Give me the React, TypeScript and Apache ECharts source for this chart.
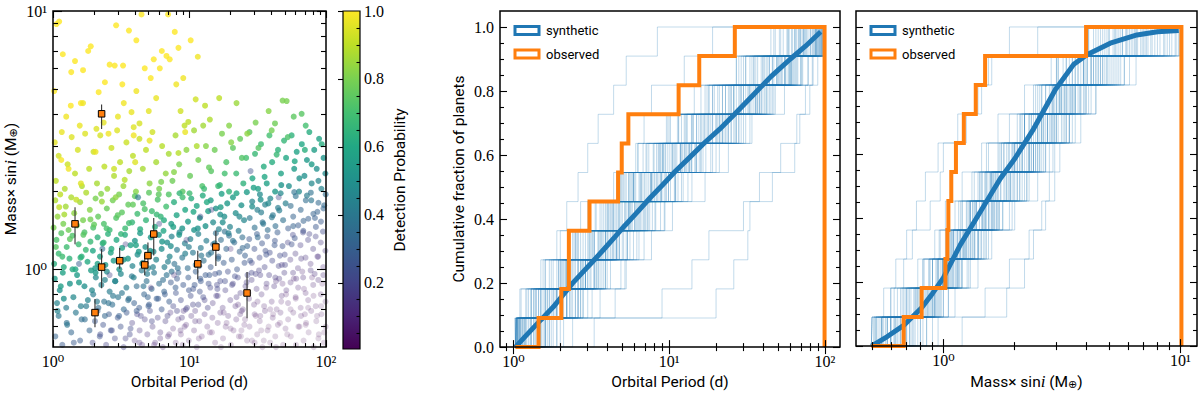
import React, { useEffect, useRef } from "react";
import * as echarts from "echarts";

// ---------------- DATA ----------------
// synthetic planets: [orbital period (d), mass x sin i (Earth masses), detection probability]
const synthPlanets: [number, number, number][] = [
  // M >= 3.5
  [1.02,4.9,1],[1.06,8.9,1],[1.11,9.1,1],[1.18,6.8,1],[1.25,3.9,0.98],[1.35,4.3,1],[1.36,5.8,1],[1.57,3.6,0.97],[1.6,4.4,1],[1.66,4.4,0.98],
  [1.66,5.9,1],[1.81,7.0,1],[1.89,7.3,1],[2.08,3.5,0.95],[2.16,4.85,1],[2.35,3.7,0.96],[2.4,5.3,1],[2.6,6.2,1],[2.83,6.15,1],[2.99,3.9,0.97],
  [3.22,5.2,1],[3.26,6.15,1],[3.3,4.4,0.98],[3.6,8.4,1],[3.76,4.06,0.97],[4.08,7.7,1],[4.08,4.9,0.98],[4.3,3.67,0.94],[4.45,9.7,1],[4.7,6.0,1],
  [5.03,4.1,0.96],[5.47,6.5,1],[5.7,4.6,0.97],[6.06,6.0,1],[6.27,7.0,1],[6.78,6.7,1],[6.97,9.7,1],[7.16,6.5,1],[7.8,8.3,1],[8.0,5.2,0.98],
  [8.6,4.1,0.93],[9.0,5.5,0.98],[9.2,3.6,0.9],[9.8,3.72,0.9],[10.2,7.7,1],[11.1,4.55,0.93],[11.5,6.65,0.98],[12.6,3.6,0.86],[14.1,3.8,0.88],[16.5,4.6,0.9],
  [22.1,4.4,0.85],[30.5,3.7,0.8],[38,4.1,0.82],[42.3,3.67,0.78],[48.1,4.5,0.8],[51.5,4.48,0.8],[66.3,4.0,0.74],[71,3.6,0.7],
  [1.45,6.4,1],[2.9,8.8,1],[5.2,5.5,1],[8.3,7.2,1],[3.9,3.55,0.95],[13,4.3,0.9],[19.5,3.6,0.82],[58,3.9,0.75],
  // 2 <= M < 3.5
  [1.03,3.1,0.96],[1.05,2.2,0.9],[1.1,2.75,0.93],[1.16,3.4,0.97],[1.22,2.05,0.88],[1.28,2.55,0.92],[1.37,3.25,0.95],[1.45,2.35,0.9],[1.52,2.9,0.94],[1.63,2.1,0.88],
  [1.72,3.35,0.95],[1.84,2.45,0.9],[1.98,2.85,0.92],[2.1,2.15,0.87],[2.22,3.3,0.94],[2.38,2.5,0.9],[2.5,2.05,0.85],[2.68,2.95,0.92],[2.8,2.3,0.88],[2.95,3.45,0.95],
  [3.1,2.6,0.9],[3.28,2.1,0.85],[3.45,3.1,0.92],[3.62,2.4,0.87],[3.85,2.75,0.9],[4.05,2.0,0.82],[4.3,3.2,0.92],[4.55,2.45,0.87],[4.8,2.9,0.9],[5.1,2.15,0.83],
  [5.35,3.4,0.93],[5.7,2.6,0.87],[6.0,2.05,0.8],[6.3,3.0,0.89],[6.7,2.35,0.84],[7.05,2.8,0.87],[7.5,2.2,0.78],[7.9,3.3,0.87],[8.4,2.55,0.8],[8.9,2.0,0.74],
  [9.5,2.9,0.83],[10.1,2.3,0.77],[10.8,3.45,0.86],[11.6,2.65,0.8],[12.4,2.1,0.72],[13.2,3.0,0.82],[14.4,2.4,0.74],[15.3,2.9,0.78],[16.2,2.1,0.68],[17.3,3.35,0.8],
  [18.6,2.6,0.72],[19.5,2.0,0.65],[20.8,2.95,0.75],[22.0,2.35,0.68],[23.5,3.2,0.76],[24.8,2.15,0.64],[26.0,2.7,0.7],[27.5,3.4,0.74],[28.9,2.25,0.6],[30.2,2.8,0.67],
  [31.8,2.05,0.57],[33.4,3.05,0.68],[35.0,2.5,0.62],[36.8,2.15,0.57],[38.5,3.3,0.7],[40.3,2.6,0.62],[42.4,2.0,0.54],[44.5,2.9,0.64],[46.8,2.35,0.58],[49.3,3.15,0.66],
  [51.0,2.7,0.6],[53.5,2.1,0.5],[56.0,3.3,0.64],[58.5,2.45,0.55],[61.0,2.85,0.58],[63.5,2.0,0.47],[66.5,3.05,0.6],[69.5,2.3,0.5],[72.5,2.65,0.54],[75.5,3.4,0.62],
  [78.5,2.15,0.47],[82.0,2.9,0.56],[85.5,2.45,0.5],[89.0,3.2,0.58],[92.5,2.05,0.45],[96.0,2.7,0.52],[99.0,2.35,0.48],
  [1.3,2.45,0.98],[2.05,2.85,0.97],[3.35,2.22,0.89],[5.1,3.15,0.97],[7.7,2.38,0.82],[11.3,3.0,0.88],[16.7,2.12,0.66],[24.2,2.7,0.73],[35.5,2.28,0.6],[52.5,3.25,0.72],
  [78.5,2.55,0.55],[1.6,2.15,0.95],[2.55,3.35,0.98],[4.0,2.6,0.95],[6.2,2.18,0.8],[9.3,3.4,0.97],[13.9,2.48,0.76],[20.2,3.1,0.82],[29.5,2.07,0.57],[43.5,2.78,0.67],
  [63.8,2.25,0.51],[93,3.05,0.62],[1.15,2.65,0.99],[3.9,3.3,0.98],[8.3,2.82,0.89],[18.1,2.35,0.7],[32,2.95,0.74],[47,2.12,0.52],[70,2.9,0.63],[88,2.2,0.46],
  [2.8,2.45,0.92],[12.8,2.05,0.68],[26.5,3.35,0.83],[59,2.62,0.6],[40,3.45,0.79],
  // 1.4 <= M < 2
  [1.01,1.45,0.8],[1.04,1.85,0.88],[1.08,1.6,0.84],[1.13,1.95,0.9],[1.19,1.5,0.8],[1.24,1.75,0.86],[1.3,1.42,0.78],[1.36,1.9,0.88],[1.43,1.65,0.83],[1.5,1.48,0.79],
  [1.58,1.82,0.86],[1.66,1.55,0.8],[1.75,1.98,0.88],[1.86,1.7,0.82],[1.97,1.45,0.72],[2.05,1.88,0.8],[2.14,1.6,0.76],[2.25,1.96,0.82],[2.36,1.5,0.72],[2.48,1.72,0.77],
  [2.6,1.42,0.68],[2.74,1.85,0.79],[2.9,1.58,0.73],[3.05,1.95,0.8],[3.2,1.66,0.75],[3.38,1.44,0.68],[3.56,1.78,0.76],[3.8,1.52,0.66],[3.98,1.92,0.75],[4.15,1.64,0.69],
  [4.35,1.43,0.62],[4.58,1.8,0.72],[4.8,1.55,0.66],[5.05,1.98,0.75],[5.3,1.68,0.69],[5.58,1.46,0.62],[5.85,1.86,0.72],[6.15,1.6,0.66],[6.45,1.41,0.6],[6.75,1.75,0.7],
  [7.05,1.95,0.73],[7.35,1.5,0.56],[7.7,1.82,0.63],[8.05,1.62,0.59],[8.45,1.97,0.66],[8.85,1.44,0.53],[9.3,1.7,0.6],[9.75,1.53,0.55],[10.3,1.88,0.63],[10.8,1.42,0.52],
  [11.3,1.76,0.6],[11.9,1.58,0.55],[12.5,1.93,0.62],[13.1,1.47,0.52],[13.7,1.68,0.57],[14.3,1.85,0.56],[14.9,1.52,0.48],[15.6,1.72,0.52],[16.4,1.43,0.44],[17.2,1.96,0.57],
  [18.0,1.6,0.5],[18.9,1.8,0.54],[19.8,1.46,0.45],[20.8,1.9,0.55],[21.8,1.65,0.49],[22.9,1.41,0.42],[24.0,1.77,0.51],[25.1,1.55,0.46],[26.3,1.99,0.55],[16.8,1.63,0.5],
  [27.6,1.58,0.4],[28.8,1.83,0.46],[30.0,1.45,0.37],[31.4,1.7,0.43],[32.8,1.95,0.48],[34.3,1.52,0.38],[35.8,1.78,0.44],[37.4,1.42,0.35],[39.1,1.88,0.46],[40.8,1.62,0.4],
  [42.6,1.47,0.36],[44.5,1.73,0.42],[46.5,1.97,0.47],[48.5,1.55,0.37],[50.6,1.8,0.43],[33.5,1.66,0.42],[52.8,1.44,0.28],[55.1,1.76,0.35],[57.5,1.6,0.31],[60.0,1.92,0.38],
  [62.6,1.48,0.29],[65.3,1.7,0.33],[68.2,1.41,0.26],[71.1,1.85,0.36],[74.2,1.57,0.3],[77.4,1.98,0.38],[80.8,1.64,0.31],[84.3,1.46,0.27],[88.0,1.81,0.34],[91.8,1.53,0.28],
  [95.8,1.72,0.32],[99.5,1.95,0.36],[58.5,1.99,0.38],[86.5,1.67,0.31],
  // 1 <= M < 1.4
  [1.02,1.05,0.63],[1.06,1.3,0.72],[1.1,1.15,0.68],[1.15,1.38,0.74],[1.2,1.02,0.62],[1.26,1.22,0.69],[1.32,1.1,0.65],[1.39,1.35,0.72],[1.46,1.0,0.6],[1.54,1.25,0.68],
  [1.62,1.12,0.64],[1.7,1.39,0.72],[1.79,1.07,0.61],[1.88,1.28,0.67],[1.96,1.18,0.6],[2.04,1.01,0.54],[2.12,1.33,0.64],[2.21,1.12,0.58],[2.31,1.26,0.62],[2.42,1.04,0.54],
  [2.53,1.37,0.64],[2.65,1.16,0.58],[2.78,1.08,0.55],[2.92,1.3,0.61],[3.06,1.0,0.52],[3.21,1.21,0.58],[3.37,1.36,0.62],[3.54,1.1,0.54],[3.7,1.24,0.58],[3.82,1.03,0.45],
  [3.98,1.29,0.53],[4.16,1.14,0.49],[4.35,1.38,0.55],[4.54,1.06,0.46],[4.75,1.22,0.5],[4.97,1.01,0.44],[5.2,1.33,0.53],[5.45,1.17,0.48],[5.7,1.09,0.46],[5.97,1.36,0.53],
  [6.25,1.2,0.49],[6.55,1.02,0.43],[6.86,1.27,0.5],[7.15,1.12,0.46],[7.4,1.34,0.45],[7.75,1.05,0.37],[8.1,1.19,0.41],[8.45,1.39,0.46],[8.85,1.11,0.39],[9.25,1.26,0.43],
  [9.7,1.01,0.35],[10.15,1.31,0.44],[10.6,1.16,0.4],[11.1,1.04,0.36],[11.6,1.37,0.45],[12.1,1.21,0.41],[12.7,1.08,0.37],[13.3,1.29,0.42],[13.8,1.14,0.38],[9.9,1.22,0.42],
  [14.3,1.02,0.28],[14.9,1.25,0.34],[15.6,1.38,0.37],[16.3,1.12,0.31],[17.0,1.3,0.35],[17.8,1.06,0.29],[18.6,1.2,0.32],[19.5,1.35,0.36],[20.4,1.09,0.29],[21.3,1.27,0.34],
  [22.3,1.0,0.26],[23.3,1.17,0.31],[24.4,1.33,0.35],[25.5,1.13,0.3],[26.5,1.23,0.32],[18.1,1.4,0.37],[27.4,1.31,0.27],[28.6,1.06,0.21],[29.9,1.2,0.25],[31.2,1.37,0.29],
  [32.6,1.11,0.22],[34.0,1.26,0.26],[35.5,1.02,0.19],[37.1,1.34,0.28],[38.7,1.16,0.23],[40.4,1.08,0.21],[42.2,1.29,0.26],[44.1,1.39,0.29],[46.0,1.13,0.22],[48.0,1.23,0.25],
  [50.1,1.04,0.19],[36.0,1.18,0.24],[45.0,1.03,0.19],[52.5,1.27,0.18],[54.8,1.09,0.14],[57.2,1.36,0.2],[59.7,1.15,0.15],[62.3,1.01,0.12],[65.0,1.24,0.17],[67.9,1.39,0.2],
  [70.8,1.11,0.14],[73.9,1.3,0.18],[77.1,1.05,0.12],[80.5,1.2,0.16],[84.0,1.34,0.18],[87.7,1.12,0.13],[91.5,1.27,0.16],[95.5,1.02,0.11],[99.0,1.18,0.15],[75.5,1.37,0.19],
  // 1 <= M < 2, second pass
  [1.21,1.63,0.87],[1.74,1.19,0.67],[2.47,1.44,0.71],[3.3,1.09,0.54],[4.7,1.71,0.72],[6.3,1.28,0.53],[8.9,1.9,0.69],[12.2,1.13,0.39],[17.5,1.52,0.49],[25.3,1.06,0.26],
  [37.8,1.8,0.47],[56,1.25,0.24],[83,1.58,0.3],[1.05,1.22,0.74],[1.48,1.86,0.91],[2.12,1.05,0.58],[2.98,1.62,0.75],[4.25,1.17,0.54],[5.95,1.95,0.75],[8.4,1.36,0.53],
  [11.8,1.03,0.34],[16.9,1.74,0.56],[24.5,1.21,0.33],[34.7,1.5,0.39],[49.8,1.14,0.21],[72.5,1.93,0.42],[1.33,1.31,0.75],[1.88,1.56,0.79],[2.68,1.2,0.61],[3.85,1.78,0.76],
  [5.4,1.02,0.44],[7.6,1.46,0.57],[10.7,1.67,0.6],[15.3,1.26,0.41],[22.1,1.97,0.59],[31.6,1.33,0.34],[45.5,1.69,0.42],[65.8,1.1,0.15],[95,1.4,0.23],[1.11,1.74,0.91],
  [1.59,1.11,0.64],[2.28,1.83,0.85],[3.15,1.37,0.66],[4.5,1.05,0.48],[6.5,1.55,0.62],[9.3,1.15,0.43],[13.4,1.82,0.61],[19.3,1.38,0.43],[27.8,1.08,0.26],[40.1,1.59,0.4],
  [59,1.32,0.26],[86.5,1.12,0.13],[1.39,1.0,0.61],[2.0,1.49,0.76],[2.88,1.9,0.83],[4.05,1.24,0.58],[5.75,1.63,0.67],[8.2,1.01,0.38],[11.5,1.44,0.51],[16.2,1.1,0.34],
  [23.2,1.6,0.47],[33.2,1.86,0.5],[47.5,1.04,0.17],[68.4,1.54,0.31],[97,1.77,0.34],[1.17,1.12,0.69],[3.6,1.51,0.69],[7.3,1.23,0.49],[14.4,1.16,0.38],[28.8,1.75,0.49],
  [57.5,1.47,0.31],[1.67,1.36,0.74],[5.15,1.18,0.52],[10.0,1.97,0.69],[20.8,1.29,0.38],[42,1.24,0.27],[78,1.85,0.39],[2.35,1.27,0.66],[6.95,1.07,0.43],[36.5,1.14,0.25],
  // 0.7 <= M < 1
  [1.03,0.92,0.55],[1.07,0.74,0.45],[1.12,0.83,0.5],[1.18,0.97,0.58],[1.25,0.71,0.42],[1.33,0.88,0.52],[1.41,0.78,0.47],[1.5,0.95,0.55],[1.6,0.72,0.43],[1.7,0.86,0.5],
  [1.8,0.76,0.45],[1.9,0.99,0.56],[1.97,0.8,0.42],[2.06,0.93,0.47],[2.15,0.71,0.36],[2.26,0.87,0.44],[2.37,0.75,0.38],[2.48,0.98,0.48],[2.6,0.82,0.42],[2.72,0.73,0.36],
  [2.86,0.9,0.45],[3.0,0.78,0.39],[3.14,0.96,0.47],[3.3,0.7,0.34],[3.45,0.85,0.42],[3.6,0.77,0.38],[2.4,0.91,0.45],[3.78,0.94,0.4],[3.93,0.74,0.3],[4.1,0.86,0.35],
  [4.28,0.71,0.28],[4.46,0.99,0.41],[4.65,0.8,0.32],[4.85,0.9,0.37],[5.06,0.73,0.29],[5.28,0.84,0.34],[5.5,0.97,0.4],[5.74,0.77,0.3],[5.99,0.88,0.35],[6.25,0.7,0.27],
  [6.52,0.82,0.32],[6.8,0.95,0.38],[7.1,0.75,0.29],[4.95,0.78,0.31],[7.3,0.89,0.28],[7.6,0.72,0.2],[7.95,0.81,0.24],[8.3,0.97,0.31],[8.65,0.76,0.22],[9.0,0.87,0.27],
  [9.4,0.7,0.19],[9.8,0.93,0.29],[10.2,0.79,0.23],[10.65,0.84,0.25],[11.1,0.98,0.3],[11.6,0.73,0.2],[12.1,0.9,0.27],[12.6,0.78,0.22],[13.1,0.95,0.28],[13.6,0.71,0.19],
  [8.1,0.92,0.28],[11.9,0.82,0.24],[14.2,0.85,0.2],[14.8,0.74,0.14],[15.4,0.96,0.24],[16.1,0.79,0.16],[16.8,0.9,0.21],[17.5,0.71,0.12],[18.3,0.83,0.17],[19.1,0.98,0.23],
  [19.9,0.76,0.13],[20.8,0.88,0.19],[21.7,0.72,0.11],[22.6,0.93,0.2],[23.6,0.81,0.15],[24.6,0.7,0.1],[25.7,0.86,0.16],[26.6,0.95,0.2],[15.9,0.87,0.2],[22.1,0.78,0.14],
  [27.3,0.77,0.1],[28.5,0.91,0.16],[29.7,0.73,0.08],[31.0,0.84,0.13],[32.3,0.99,0.18],[33.7,0.8,0.11],[35.2,0.72,0.07],[36.7,0.88,0.14],[38.3,0.95,0.17],[40.0,0.75,0.08],
  [41.7,0.86,0.13],[43.5,0.7,0.06],[45.4,0.92,0.15],[47.4,0.79,0.1],[49.5,0.97,0.16],[51.2,0.83,0.11],[30.5,0.96,0.18],[42.5,0.93,0.16],[52.7,0.74,0.06],[55.0,0.89,0.11],
  [57.4,0.97,0.14],[59.9,0.78,0.07],[62.5,0.85,0.09],[65.2,0.71,0.05],[68.0,0.93,0.12],[70.9,0.81,0.08],[74.0,0.76,0.06],[77.2,0.99,0.14],[80.6,0.87,0.09],[84.1,0.72,0.05],
  [87.8,0.91,0.11],[91.6,0.8,0.07],[95.6,0.95,0.12],[99.2,0.75,0.05],[60.5,0.92,0.12],[82.5,0.96,0.13],
  // 0.5 <= M < 0.7
  [1.04,0.55,0.32],[1.1,0.66,0.4],[1.17,0.51,0.28],[1.26,0.62,0.37],[1.36,0.57,0.33],[1.47,0.68,0.4],[1.58,0.53,0.29],[1.71,0.64,0.36],[1.85,0.58,0.32],[1.95,0.52,0.2],
  [2.03,0.63,0.27],[2.12,0.69,0.3],[2.22,0.56,0.23],[2.33,0.61,0.25],[2.45,0.51,0.19],[2.57,0.67,0.28],[2.7,0.58,0.23],[2.84,0.54,0.2],[2.98,0.65,0.26],[3.13,0.6,0.24],
  [3.29,0.5,0.18],[3.46,0.68,0.27],[3.65,0.56,0.21],[3.8,0.62,0.17],[3.96,0.53,0.12],[4.13,0.67,0.19],[4.31,0.58,0.14],[4.5,0.51,0.11],[4.7,0.64,0.17],[4.91,0.56,0.13],
  [5.13,0.69,0.2],[5.36,0.6,0.15],[5.6,0.52,0.11],[5.85,0.65,0.17],[6.11,0.57,0.13],[6.38,0.5,0.1],[6.66,0.63,0.16],[6.95,0.55,0.12],[4.4,0.66,0.18],[7.25,0.68,0.13],
  [7.58,0.59,0.09],[7.92,0.52,0.06],[8.28,0.64,0.11],[8.65,0.56,0.07],[9.04,0.69,0.13],[9.45,0.61,0.09],[9.88,0.53,0.06],[10.3,0.66,0.12],[10.8,0.58,0.08],[11.3,0.5,0.05],
  [11.8,0.63,0.1],[12.3,0.55,0.06],[12.9,0.67,0.12],[13.5,0.6,0.08],[8.9,0.51,0.05],[11.0,0.69,0.13],[14.1,0.57,0.05],[14.7,0.65,0.09],[15.4,0.52,0.04],[16.1,0.62,0.07],
  [16.8,0.68,0.1],[17.6,0.54,0.04],[18.4,0.6,0.06],[19.2,0.66,0.09],[20.1,0.51,0.03],[21.0,0.58,0.05],[22.0,0.64,0.08],[23.0,0.55,0.04],[24.1,0.69,0.1],[25.2,0.61,0.05],
  [26.4,0.53,0.03],[17.0,0.5,0.03],[23.5,0.67,0.09],[27.5,0.6,0.05],[28.7,0.53,0.03],[30.0,0.67,0.07],[31.3,0.56,0.03],[32.7,0.63,0.05],[34.2,0.5,0.02],[35.7,0.69,0.08],
  [37.3,0.58,0.04],[39.0,0.52,0.02],[40.7,0.65,0.06],[42.5,0.55,0.03],[44.4,0.61,0.05],[46.4,0.68,0.07],[48.5,0.51,0.02],[50.5,0.59,0.04],[33.0,0.66,0.06],[43.0,0.5,0.02],
  [52.8,0.64,0.04],[55.2,0.55,0.02],[57.6,0.68,0.05],[60.2,0.51,0.02],[62.8,0.6,0.03],[65.6,0.66,0.05],[68.5,0.53,0.02],[71.5,0.62,0.03],[74.6,0.57,0.02],[77.9,0.69,0.05],
  [81.3,0.5,0.02],[84.9,0.63,0.03],[88.6,0.56,0.02],[92.5,0.67,0.04],[96.5,0.52,0.02],[99.5,0.6,0.03],[70.0,0.67,0.04],
  // 0.5 <= M < 1, second pass
  [1.27,0.61,0.39],[1.93,0.83,0.47],[3.7,0.59,0.22],[5.9,0.77,0.29],[8.8,0.65,0.155],[13.8,0.88,0.24],[18.7,0.62,0.05],[27,0.81,0.115],[39,0.7,0.04],[58,0.92,0.08],
  [86,0.66,0.03],[2.55,0.74,0.38],[4.9,0.96,0.42],[7.1,0.56,0.1],[10.6,0.73,0.19],[16.5,0.97,0.27],[24,0.58,0.03],[33,0.95,0.17],[47,0.75,0.05],[69,0.84,0.05],
  [1.14,0.86,0.56],[1.62,0.64,0.36],[2.85,0.9,0.46],[4.1,0.69,0.28],[6.4,0.91,0.36],[9.2,0.6,0.1],[12.9,0.76,0.18],[20.5,0.87,0.19],[30.6,0.66,0.04],[43,0.9,0.11],
  [64,0.6,0.02],[94,0.88,0.04],[2.2,0.55,0.25],[3.2,0.81,0.39],[5.3,0.63,0.2],[7.9,0.85,0.3],[11.7,0.54,0.05],[15.7,0.79,0.17],[22.7,0.73,0.09],[35,0.53,0.02],
  [51,0.8,0.06],[74,0.71,0.03],[1.42,0.52,0.28],[2.05,0.97,0.54],[3.05,0.66,0.3],[4.6,0.86,0.38],[6.9,0.66,0.19],[9.9,0.83,0.26],[14.6,0.57,0.04],[21.5,0.94,0.22],
  [31.5,0.75,0.06],[46,0.62,0.02],[67,0.98,0.09],[97,0.57,0.02],[1.75,0.72,0.41],[2.65,0.58,0.25],[3.9,0.93,0.44],[5.5,0.51,0.09],[8.1,0.69,0.19],[12.0,0.92,0.28],
  [17.8,0.68,0.08],[26.2,0.89,0.17],[38,0.6,0.02],[55,0.7,0.03],[81,0.79,0.04],[1.08,0.69,0.45],[2.4,0.66,0.33],[3.4,0.54,0.18],[5.0,0.72,0.28],[7.4,0.98,0.38],
  [11.0,0.63,0.11],[16.0,0.84,0.2],[23.8,0.55,0.03],[36.5,0.85,0.1],[52,0.56,0.02],[79,0.93,0.06],[1.55,0.89,0.54],[2.75,0.79,0.4],[4.3,0.52,0.13],[6.6,0.8,0.29],
  [9.6,0.71,0.18],[14.0,0.95,0.28],[20.0,0.59,0.04],[28.5,0.97,0.2],[41,0.67,0.03],[60,0.77,0.04],[88,0.54,0.02],[1.2,0.77,0.5],[6.1,0.54,0.11],[18.2,0.9,0.22],
  [33.5,0.58,0.02],[71,0.61,0.02],[3.55,0.76,0.35],[10.9,0.87,0.27],[25.5,0.64,0.04],[48,0.88,0.08],[2.1,0.75,0.41],[8.6,0.58,0.1],[30,0.52,0.02],[92,0.72,0.03],
  // scattered low-probability points
  [3.4,1.25,0.18],[6.0,1.5,0.22],[9.5,1.3,0.15],[2.6,0.95,0.2],[14.5,1.7,0.2],[5.2,0.85,0.1],[20.0,1.2,0.12],[1.55,1.05,0.3],
  [7.7,0.95,0.12],[28,2.4,0.25],[12,1.6,0.25],[45,1.9,0.2],[4.2,1.9,0.4],[2.3,1.2,0.35],
];

// observed planets
const obsPeriod = [1.45, 2.27, 2.27, 2.03, 3.08, 4.7, 4.96, 5.47, 11.5, 15.6, 26.4];
const obsMass = [1.5, 4.0, 1.02, 0.68, 1.08, 1.04, 1.13, 1.37, 1.05, 1.22, 0.81];
const obsMassLow = [1.25, 3.49, 0.845, 0.597, 1.006, 0.948, 1.045, 1.13, 0.916, 1.03, 0.646];
const obsMassHigh = [1.74, 4.35, 1.2, 0.767, 1.21, 1.15, 1.27, 1.58, 1.18, 1.41, 0.976];

// histogram ranges for the cumulative step curves
const periodHistRange = [1.03, 99.5];
const massHistRange = [0.497, 10.1];

// cumulative distribution of the whole synthetic population (detection-weighted)
const synthPeriodCdfP = [1.03, 1.2, 1.5, 1.8, 2.1, 2.4, 2.8, 3.2, 3.8, 4.5, 5.2, 6.2, 7.5, 9, 11, 13.7, 17, 21, 26, 35, 45, 60, 75, 94];
const synthPeriodCdfF = [0, 0.035, 0.085, 0.125, 0.165, 0.2, 0.235, 0.265, 0.305, 0.345, 0.38, 0.42, 0.465, 0.505, 0.55, 0.595, 0.64, 0.68, 0.725, 0.79, 0.845, 0.9, 0.94, 0.985];
const synthMassCdfM = [0.497, 0.58, 0.678, 0.81, 0.9, 1.0, 1.18, 1.43, 1.74, 2.0, 2.4, 2.97, 3.54, 4.03, 5.06, 6.56, 8.0, 9.84];
const synthMassCdfF = [0, 0.03, 0.064, 0.12, 0.165, 0.214, 0.318, 0.42, 0.525, 0.587, 0.68, 0.804, 0.882, 0.913, 0.949, 0.975, 0.985, 0.989];

// individual synthetic draws of 11 planets
const periodDraws: number[][] = [
  [1.1,1.6,2.3,3.1,4.5,6.0,9.5,14,25,40,72],
  [1.3,1.9,2.0,3.8,5.2,7.7,11,18,33,55,92],
  [1.05,1.4,2.7,3.3,3.9,5.9,12,16,22,46,68],
  [1.5,2.2,2.9,4.8,6.6,8.4,10.5,24,29,61,85],
  [1.04,1.2,1.8,2.5,3.6,6.4,7.2,13,19,37,58],
  [1.7,2.6,3.4,4.1,5.5,9.0,15,27,42,50,97],
  [1.15,1.35,2.1,2.8,4.4,5.0,8.8,11.5,17,28,64],
  [1.08,2.4,3.0,3.5,7.0,8.1,13.5,21,35,78,99],
  [1.25,1.7,1.95,3.2,4.0,4.6,6.8,9.8,14.5,31,48],
  [2.0,2.3,3.7,5.4,6.2,10.2,16.5,20,38,65,88],
  [1.05,1.5,2.2,2.6,3.0,5.8,9.2,12.5,26,44,75],
  [1.4,1.8,3.3,4.3,7.5,9.5,11.8,23,30,52,70],
  [1.12,1.25,1.6,2.0,3.4,4.9,7.9,17.5,27,34,57],
  [1.6,2.7,4.0,5.1,6.0,8.6,14,19,45,83,95],
  [1.06,1.9,2.5,3.6,5.3,7.4,10.8,15.5,24,41,62],
  [1.3,2.1,2.4,2.9,4.2,6.5,12.2,28,36,59,90],
  [1.18,1.45,3.1,4.7,5.7,6.9,9.0,13,18,27,47],
  [1.9,2.2,2.8,3.9,8.2,11,16,22,32,70,98],
  [1.06,1.3,1.7,2.3,2.7,4.4,6.3,10,21,39,54],
  [1.5,1.75,3.5,4.6,5.6,7.8,13.8,25,43,67,81],
  [1.2,2.0,2.6,3.3,4.0,5.2,8.0,9.6,16,29,66],
  [1.04,1.1,2.9,3.7,6.1,8.9,11.2,20,37,49,86],
  [1.35,1.65,2.2,4.5,5.0,6.7,12.8,17,23,56,73],
  [1.1,2.5,3.0,3.2,4.8,9.3,14.8,30,47,60,94],
  [1.45,1.85,2.0,2.7,3.8,5.5,7.1,11.5,19.5,33,51],
  [1.04,1.6,3.6,4.2,6.9,7.6,10.4,15,26,44,79],
  [1.8,2.3,2.6,5.3,6.4,9.9,13.3,18.5,40,53,87],
  [1.15,1.55,1.9,3.1,4.3,5.9,8.5,21.5,31,63,91],
  [1.22,2.8,3.3,3.9,4.1,7.2,9.4,12,24.5,35,59],
  [1.07,1.4,2.15,2.45,5.6,6.1,11.8,16.8,29,58,77],
  [1.6,1.9,2.9,4.6,7.3,8.8,12.6,14.3,20.5,42,69],
  [1.28,1.5,2.35,3.5,4.9,5.3,10.6,22.5,36,46,83],
  [1.05,2.2,2.75,3.05,3.7,8.3,9.1,17.8,28.5,71,96],
  [1.5,1.7,3.9,5.0,5.8,6.6,15.6,19,34,50,64],
  [1.12,2.6,3.15,4.35,5.45,10.9,13.9,26.5,39,61,89],
  [1.38,1.6,2.05,2.55,4.75,7.7,8.7,23.5,32.5,55,74],
  [1.1,1.3,1.5,1.9,2.2,2.6,3.0,3.5,4.4,5.3,8.4],
  [1.7,2.5,3.3,4.0,4.6,5.5,6.3,6.9,7.7,12.5,19],
  [3.3,20,26,32,33,46,52,69,75,84,97],
  [1.6,9.0,14,18,30,38,64,66,80,90,99],
  [1.06,1.35,2.9,3.3,6.8,11,12.5,16,41,47,88],
  [1.6,2.6,2.8,5.9,7.1,9.9,24,27,38,62,95],
  [1.03,1.12,1.55,2.3,4.4,4.9,6.1,15,17.5,30,52],
  [1.9,3.6,4.2,4.8,9.3,14,16,33,44,59,81],
  [1.2,1.45,2.05,3.9,6.3,8.0,8.6,10.2,26,36,70],
  [1.1,2.8,3.5,6.4,8.8,17,19,29,37,72,93],
  [1.35,1.5,1.75,2.6,3.1,5.6,13,21,23,31,45],
  [2.4,2.7,5.2,6.9,7.8,12.3,20,34,55,66,99],
  [1.04,1.8,2.2,2.5,4.7,7.0,10.1,12.7,18,56,76],
  [1.55,3.2,3.8,4.4,5.2,11.4,18.5,26,48,53,87],
  [1.15,1.3,2.45,5.6,6.0,7.6,9.1,14.2,28,40,61],
  [1.75,2.05,3.4,4.0,10.5,13.2,15,22,30,78,94],
  [1.02,1.65,1.95,3.0,3.35,5.1,8.3,24,33,49,68],
  [1.3,4.5,5.3,6.2,7.3,9.6,21,25,46,64,84],
  [1.08,1.22,2.7,3.7,4.1,6.6,11.8,13.9,19,35,58],
  [2.1,2.35,2.6,4.6,8.1,10.8,17.2,31,42,51,97],
  [1.18,1.9,2.15,2.4,5.5,5.9,7.4,16.5,22,27,73],
  [1.45,3.0,3.9,7.7,9.4,12,14.6,20.5,39,60,89],
  [1.05,1.38,1.6,3.6,4.3,5.7,9.8,11.3,25,43,65],
  [1.65,2.2,4.9,5.4,6.5,8.9,13.5,28,36,70,92],
];
const massDraws: number[][] = [
  [0.55,0.72,0.95,1.1,1.3,1.45,1.8,2.1,2.6,3.3,4.8],
  [0.62,0.85,0.9,1.25,1.6,1.7,2.3,2.9,3.1,4.2,6.5],
  [0.7,0.78,1.05,1.15,1.5,1.9,2.0,2.5,3.6,3.9,5.6],
  [0.52,0.66,0.88,1.02,1.2,1.35,1.55,2.2,2.7,3.0,4.4],
  [0.8,0.92,1.12,1.4,1.65,2.05,2.4,2.75,3.5,5.2,7.8],
  [0.58,0.9,1.0,1.08,1.28,1.75,2.15,2.35,2.9,3.7,5.0],
  [0.65,0.75,0.82,1.18,1.42,1.58,1.95,2.6,3.2,4.5,9.5],
  [0.5,0.8,1.15,1.3,1.5,1.62,2.5,3.0,3.4,4.0,6.0],
  [0.74,0.98,1.06,1.22,1.38,1.85,2.0,2.2,2.85,3.3,4.1],
  [0.6,0.7,0.94,1.1,1.7,2.25,2.45,3.15,3.8,5.5,8.5],
  [0.68,0.86,1.0,1.35,1.47,1.52,1.9,2.65,3.05,4.3,5.3],
  [0.55,0.62,0.99,1.12,1.25,1.6,2.1,2.3,2.5,3.6,6.8],
  [0.85,1.05,1.2,1.44,1.78,1.98,2.7,3.3,3.55,4.7,7.2],
  [0.57,0.76,0.87,0.96,1.18,1.4,1.72,2.05,2.9,3.4,4.6],
  [0.63,0.91,1.3,1.55,1.68,2.3,2.55,2.8,3.75,4.9,9.0],
  [0.72,0.8,1.08,1.24,1.33,1.5,1.95,2.4,3.1,3.95,5.4],
  [0.53,0.69,0.93,1.14,1.6,1.82,2.2,2.6,3.25,4.4,6.2],
  [0.78,0.97,1.1,1.27,1.45,1.66,2.35,2.95,3.6,4.2,7.5],
  [0.6,0.84,0.95,1.03,1.37,1.56,1.76,2.15,2.45,3.05,4.9],
  [0.66,0.73,1.16,1.48,1.9,2.1,2.8,3.5,4.0,5.8,9.8],
  [0.51,0.89,1.04,1.21,1.3,1.74,2.0,2.55,3.35,3.8,5.7],
  [0.7,0.95,1.19,1.36,1.52,1.63,2.25,2.7,2.95,4.6,6.4],
  [0.58,0.79,0.83,1.07,1.29,1.95,2.4,3.2,3.7,4.3,8.0],
  [0.76,0.88,1.13,1.41,1.57,1.8,2.05,2.35,3.0,5.0,5.9],
  [0.64,0.7,0.99,1.23,1.35,1.5,2.6,2.85,3.45,3.9,7.0],
  [0.55,0.93,1.09,1.17,1.68,2.2,2.45,3.05,3.3,4.4,5.2],
  [0.82,1.0,1.26,1.32,1.46,1.7,1.88,2.75,3.9,4.8,8.8],
  [0.6,0.67,0.9,1.15,1.55,1.6,2.3,2.5,2.8,3.5,4.5],
  [0.73,0.86,1.02,1.4,1.62,2.0,2.15,3.4,4.1,5.3,6.6],
  [0.52,0.81,0.97,1.1,1.2,1.43,1.85,2.65,3.15,3.6,7.3],
  [0.69,0.92,1.14,1.28,1.72,1.92,2.5,2.9,3.25,4.05,5.5],
  [0.62,0.78,1.05,1.33,1.38,1.53,2.1,2.2,3.0,4.7,6.1],
  [0.5,0.56,0.63,0.7,0.77,0.84,0.95,1.15,1.4,1.6,1.9],
  [1.2,1.85,2.2,2.4,2.6,2.8,2.95,3.4,4.0,5.8,9.9],
  [0.55,0.6,0.68,0.74,0.88,0.97,1.0,1.25,1.45,1.55,2.5],
  [0.95,1.5,1.9,2.3,2.7,2.95,3.1,3.8,4.4,6.5,10],
  [0.5,0.6,0.95,1.25,1.3,1.6,2.3,2.5,2.9,3.2,6.9],
  [0.75,1.05,1.15,1.45,1.95,2.15,2.3,3.0,3.6,5.4,8.2],
  [0.54,0.71,0.78,0.92,1.02,1.2,1.45,1.7,2.2,2.85,4.1],
  [0.66,0.96,1.4,1.5,1.62,1.85,2.7,3.25,3.5,4.6,6.3],
  [0.58,0.64,1.0,1.08,1.12,1.68,1.8,2.45,3.1,3.9,9.2],
  [0.8,0.87,0.99,1.3,1.55,2.5,2.65,2.95,4.2,4.5,5.7],
  [0.52,0.76,1.1,1.18,1.36,1.42,2.05,2.2,2.6,3.0,5.0],
  [0.69,0.92,1.04,1.22,1.78,2.05,2.9,3.4,3.95,6.1,7.1],
  [0.6,0.83,0.87,1.06,1.16,1.32,1.52,1.9,2.4,3.5,4.3],
  [0.9,1.12,1.28,1.6,1.72,2.25,2.4,2.6,3.3,4.9,8.6],
  [0.56,0.68,0.82,1.2,1.5,1.58,1.7,2.75,3.15,3.7,5.9],
  [0.72,1.0,1.07,1.35,1.47,1.88,2.15,3.6,4.4,5.1,6.5],
  [0.51,0.8,0.9,0.97,1.26,1.65,1.98,2.12,2.55,3.05,4.7],
  [0.63,0.77,1.2,1.4,2.0,2.1,2.35,2.85,3.8,4.2,9.6],
  [0.67,0.94,1.02,1.1,1.33,1.46,1.75,2.3,2.7,4.05,5.3],
  [0.85,0.9,1.17,1.52,1.64,1.92,2.55,3.3,3.45,5.6,7.6],
];

const colorbarRange = [0.005, 1.0];
const colorbarTicks = [0.2, 0.4, 0.6, 0.8, 1.0];
const cdfTicks = [0, 0.2, 0.4, 0.6, 0.8, 1.0];

// ---------------- STYLE ----------------
const SERIF = "'Liberation Serif', 'DejaVu Serif', serif";
const SANS = "Roboto, 'DejaVu Sans', sans-serif";
const BLUE = "#1f77b4";
const ORANGE = "#ff7f0e";
const VIRIDIS = ["#440154", "#482475", "#414487", "#355f8d", "#2a788e", "#21918c", "#22a884", "#44bf70", "#7ad151", "#bddf26", "#fde725"];

function hexRgb(h: string) {
  return [parseInt(h.slice(1, 3), 16), parseInt(h.slice(3, 5), 16), parseInt(h.slice(5, 7), 16)];
}
const VIR_RGB = VIRIDIS.map(hexRgb);
function viridisRgba(prob: number) {
  const t = Math.max(0, Math.min(1, (prob - colorbarRange[0]) / (colorbarRange[1] - colorbarRange[0])));
  const f = t * (VIR_RGB.length - 1);
  const i = Math.min(VIR_RGB.length - 2, Math.floor(f));
  const u = f - i;
  const c = VIR_RGB[i].map((v, k) => Math.round(v + (VIR_RGB[i + 1][k] - v) * u));
  const alpha = Math.min(1, 0.17 + 1.6 * prob);
  return `rgba(${c[0]},${c[1]},${c[2]},${alpha.toFixed(3)})`;
}

const SUP: Record<string, string> = { "-1": "⁻¹", "0": "⁰", "1": "¹", "2": "²" };
const fmtPow = (v: number) => "10" + SUP[String(Math.round(Math.log10(v)))];
const fmt1 = (v: number) => Number(v).toFixed(1);

function logMinors(lo: number, hi: number) {
  const out: number[] = [];
  for (let d = 0.1; d <= 100; d *= 10) {
    for (let k = 2; k <= 9; k++) {
      const v = +(k * d).toPrecision(6);
      if (v > lo && v < hi) out.push(v);
    }
  }
  return out;
}
function linMinors(lo: number, hi: number, step: number, major: number) {
  const out: number[] = [];
  for (let i = 1; i * step < hi; i++) {
    const v = +(i * step).toFixed(4);
    if (v > lo && Math.abs(v / major - Math.round(v / major)) > 1e-6) out.push(v);
  }
  return out;
}

function cdfSteps(vals: number[], lo: number, hi: number) {
  const s = [...vals].sort((a, b) => a - b);
  const n = s.length;
  const pts: number[][] = [[lo, 0]];
  s.forEach((v, i) => {
    pts.push([v, i / n]);
    pts.push([v, (i + 1) / n]);
  });
  pts.push([hi, 1]);
  pts.push([hi, 0]);
  return pts;
}

const MAJ = 7;
const MIN = 4;
const TICK_STYLE = { color: "#000", width: 1.1 };

function mkAxis(opts: any) {
  const { type, grid, min, max, position, ticks, len, labels, fmt, extra } = opts;
  const ax: any = {
    type,
    gridIndex: grid,
    min,
    max,
    position,
    axisLine: { show: false },
    axisTick: { show: true, inside: true, length: len, customValues: ticks, lineStyle: TICK_STYLE },
    axisLabel: labels
      ? { show: true, customValues: labels, formatter: fmt, fontFamily: SERIF, fontSize: 16, color: "#000", margin: 6 }
      : { show: false },
    splitLine: { show: false },
    minorTick: { show: false },
    minorSplitLine: { show: false },
    silent: true,
    z: 6,
    ...(extra || {}),
  };
  if (type === "log") ax.logBase = 10;
  return ax;
}

function buildOption() {
  const xAxes: any[] = [];
  const yAxes: any[] = [];
  const addX = (a: any) => (xAxes.push(a), xAxes.length - 1);
  const addY = (a: any) => (yAxes.push(a), yAxes.length - 1);

  const nameStyle = { fontFamily: SANS, fontSize: 15.5, color: "#000" };
  const massName = "Mass× sin{it|i} (M{sub|⊕})";
  const massRich = {
    it: { fontFamily: SERIF, fontStyle: "italic", fontSize: 17 },
    sub: { fontFamily: "'DejaVu Sans', sans-serif", fontSize: 11, verticalAlign: "bottom", padding: [5, 0, 0, 0] },
  };

  // ---- grid 0 : scatter ----
  const pMin = 1, pMax = 100, mMin = 0.5, mMax = 10;
  const g0x = addX(mkAxis({ type: "log", grid: 0, min: pMin, max: pMax, position: "bottom", ticks: [1, 10, 100], len: MAJ, labels: [1, 10, 100], fmt: fmtPow,
    extra: { name: "Orbital Period (d)", nameLocation: "middle", nameGap: 23, nameTextStyle: nameStyle } }));
  addX(mkAxis({ type: "log", grid: 0, min: pMin, max: pMax, position: "bottom", ticks: logMinors(pMin, pMax), len: MIN }));
  addX(mkAxis({ type: "log", grid: 0, min: pMin, max: pMax, position: "top", ticks: [1, 10, 100], len: MAJ }));
  addX(mkAxis({ type: "log", grid: 0, min: pMin, max: pMax, position: "top", ticks: logMinors(pMin, pMax), len: MIN }));
  const g0y = addY(mkAxis({ type: "log", grid: 0, min: mMin, max: mMax, position: "left", ticks: [1, 10], len: MAJ + 2, labels: [1, 10], fmt: fmtPow,
    extra: { name: massName, nameLocation: "middle", nameGap: 34, nameRotate: 90, nameTextStyle: { ...nameStyle, rich: massRich } } }));
  addY(mkAxis({ type: "log", grid: 0, min: mMin, max: mMax, position: "left", ticks: logMinors(mMin, mMax), len: MIN + 1 }));
  addY(mkAxis({ type: "log", grid: 0, min: mMin, max: mMax, position: "right", ticks: [1, 10], len: MAJ + 2 }));
  addY(mkAxis({ type: "log", grid: 0, min: mMin, max: mMax, position: "right", ticks: logMinors(mMin, mMax), len: MIN + 1 }));

  // ---- grid 1 : colorbar ----
  const cbX = addX({ type: "value", gridIndex: 1, min: 0, max: 1, show: false });
  const cbY = addY(mkAxis({ type: "value", grid: 1, min: colorbarRange[0], max: colorbarRange[1], position: "right", ticks: colorbarTicks, len: 5, labels: colorbarTicks, fmt: fmt1,
    extra: { name: "Detection Probability", nameLocation: "middle", nameGap: 32, nameRotate: 90, nameTextStyle: nameStyle } }));
  yAxes[cbY].axisLabel.margin = 4;
  addY(mkAxis({ type: "value", grid: 1, min: colorbarRange[0], max: colorbarRange[1], position: "right", ticks: linMinors(0, 1.0001, 0.05, 0.2), len: 3.5 }));

  // ---- grid 2 : cumulative period ----
  const p2Min = 0.82, p2Max = 125;
  const g2x = addX(mkAxis({ type: "log", grid: 2, min: p2Min, max: p2Max, position: "bottom", ticks: [1, 10, 100], len: MAJ, labels: [1, 10, 100], fmt: fmtPow,
    extra: { name: "Orbital Period (d)", nameLocation: "middle", nameGap: 23, nameTextStyle: nameStyle } }));
  addX(mkAxis({ type: "log", grid: 2, min: p2Min, max: p2Max, position: "bottom", ticks: logMinors(p2Min, p2Max), len: MIN }));
  addX(mkAxis({ type: "log", grid: 2, min: p2Min, max: p2Max, position: "top", ticks: [1, 10, 100], len: MAJ }));
  addX(mkAxis({ type: "log", grid: 2, min: p2Min, max: p2Max, position: "top", ticks: logMinors(p2Min, p2Max), len: MIN }));
  const g2y = addY(mkAxis({ type: "value", grid: 2, min: 0, max: 1.05, position: "left", ticks: cdfTicks, len: MAJ, labels: cdfTicks, fmt: fmt1,
    extra: { name: "Cumulative fraction of planets", nameLocation: "middle", nameGap: 33, nameRotate: 90, nameTextStyle: nameStyle } }));
  addY(mkAxis({ type: "value", grid: 2, min: 0, max: 1.05, position: "left", ticks: linMinors(0, 1.04, 0.05, 0.2), len: MIN }));
  addY(mkAxis({ type: "value", grid: 2, min: 0, max: 1.05, position: "right", ticks: cdfTicks, len: MAJ }));
  addY(mkAxis({ type: "value", grid: 2, min: 0, max: 1.05, position: "right", ticks: linMinors(0, 1.04, 0.05, 0.2), len: MIN }));

  // ---- grid 3 : cumulative mass ----
  const m3Min = 0.428, m3Max = 11.75;
  const g3x = addX(mkAxis({ type: "log", grid: 3, min: m3Min, max: m3Max, position: "bottom", ticks: [1, 10], len: MAJ, labels: [1, 10], fmt: fmtPow,
    extra: { name: massName, nameLocation: "middle", nameGap: 23, nameTextStyle: { ...nameStyle, rich: massRich } } }));
  addX(mkAxis({ type: "log", grid: 3, min: m3Min, max: m3Max, position: "bottom", ticks: logMinors(m3Min, m3Max), len: MIN }));
  addX(mkAxis({ type: "log", grid: 3, min: m3Min, max: m3Max, position: "top", ticks: [1, 10], len: MAJ }));
  addX(mkAxis({ type: "log", grid: 3, min: m3Min, max: m3Max, position: "top", ticks: logMinors(m3Min, m3Max), len: MIN }));
  const g3y = addY(mkAxis({ type: "value", grid: 3, min: 0, max: 1.05, position: "left", ticks: cdfTicks, len: MAJ }));
  addY(mkAxis({ type: "value", grid: 3, min: 0, max: 1.05, position: "left", ticks: linMinors(0, 1.04, 0.05, 0.2), len: MIN }));
  addY(mkAxis({ type: "value", grid: 3, min: 0, max: 1.05, position: "right", ticks: cdfTicks, len: MAJ }));
  addY(mkAxis({ type: "value", grid: 3, min: 0, max: 1.05, position: "right", ticks: linMinors(0, 1.04, 0.05, 0.2), len: MIN }));

  const frame = { show: true, z: 5, backgroundColor: "transparent", borderColor: "#000", borderWidth: 1.5 };
  const TOP = 11, H = 338;
  const grids = [
    { ...frame, left: 53, top: TOP, width: 273, height: H },
    { ...frame, left: 343, top: TOP, width: 17, height: H, borderWidth: 1.2 },
    { ...frame, left: 500, top: TOP, width: 340, height: H },
    { ...frame, left: 856, top: TOP, width: 341, height: H },
  ];

  const series: any[] = [];

  series.push({
    type: "scatter",
    xAxisIndex: g0x,
    yAxisIndex: g0y,
    symbol: "circle",
    symbolSize: 6,
    silent: true,
    z: 2,
    data: synthPlanets.map(([p, m, pr]) => ({ value: [p, m], itemStyle: { color: viridisRgba(pr) } })),
  });
  series.push({
    type: "custom",
    xAxisIndex: g0x,
    yAxisIndex: g0y,
    silent: true,
    z: 3,
    encode: { x: 0, y: [1, 2] },
    data: obsPeriod.map((p, i) => [p, obsMassLow[i], obsMassHigh[i]]),
    renderItem: (_params: any, api: any) => {
      const a = api.coord([api.value(0), api.value(1)]);
      const b = api.coord([api.value(0), api.value(2)]);
      return { type: "line", shape: { x1: a[0], y1: a[1], x2: b[0], y2: b[1] }, style: { stroke: "#333", lineWidth: 1.1 } };
    },
  });
  series.push({
    type: "scatter",
    xAxisIndex: g0x,
    yAxisIndex: g0y,
    symbol: "rect",
    symbolSize: 6.5,
    silent: true,
    z: 4,
    itemStyle: { color: ORANGE, borderColor: "#000", borderWidth: 1, opacity: 1 },
    data: obsPeriod.map((p, i) => [p, obsMass[i]]),
  });

  const stops = VIRIDIS.map((c, i) => ({ offset: i / (VIRIDIS.length - 1), color: c }));
  series.push({
    type: "custom",
    xAxisIndex: cbX,
    yAxisIndex: cbY,
    silent: true,
    z: 1,
    encode: { x: [0, 2], y: [1, 3] },
    data: [[0, colorbarRange[0], 1, colorbarRange[1]]],
    renderItem: (_params: any, api: any) => {
      const tl = api.coord([api.value(0), api.value(3)]);
      const br = api.coord([api.value(2), api.value(1)]);
      return {
        type: "rect",
        shape: { x: tl[0], y: tl[1], width: br[0] - tl[0], height: br[1] - tl[1] },
        style: { fill: new echarts.graphic.LinearGradient(0, 1, 0, 0, stops) },
      };
    },
  });

  const thinStyle = { color: BLUE, width: 0.9, opacity: 0.3 };
  periodDraws.forEach((d, i) => {
    series.push({
      type: "line",
      name: "period draw " + (i + 1),
      xAxisIndex: g2x,
      yAxisIndex: g2y,
      symbol: "none",
      silent: true,
      z: 1,
      lineStyle: thinStyle,
      data: cdfSteps(d, periodHistRange[0], periodHistRange[1]),
    });
  });
  series.push({
    type: "line", name: "synthetic", xAxisIndex: g2x, yAxisIndex: g2y, symbol: "none", silent: true, z: 3,
    lineStyle: { color: BLUE, width: 5 }, itemStyle: { color: BLUE },
    data: synthPeriodCdfP.map((p, i) => [p, synthPeriodCdfF[i]]),
  });
  series.push({
    type: "line", name: "observed", xAxisIndex: g2x, yAxisIndex: g2y, symbol: "none", silent: true, z: 4,
    lineStyle: { color: ORANGE, width: 4, join: "miter" }, itemStyle: { color: ORANGE },
    data: cdfSteps(obsPeriod, periodHistRange[0], periodHistRange[1]),
  });

  massDraws.forEach((d, i) => {
    series.push({
      type: "line",
      name: "mass draw " + (i + 1),
      xAxisIndex: g3x,
      yAxisIndex: g3y,
      symbol: "none",
      silent: true,
      z: 1,
      lineStyle: thinStyle,
      data: cdfSteps(d, massHistRange[0], massHistRange[1]),
    });
  });
  series.push({
    type: "line", name: "synthetic", xAxisIndex: g3x, yAxisIndex: g3y, symbol: "none", silent: true, z: 3,
    lineStyle: { color: BLUE, width: 5 }, itemStyle: { color: BLUE },
    data: synthMassCdfM.map((m, i) => [m, synthMassCdfF[i]]),
  });
  series.push({
    type: "line", name: "observed", xAxisIndex: g3x, yAxisIndex: g3y, symbol: "none", silent: true, z: 4,
    lineStyle: { color: ORANGE, width: 4, join: "miter" }, itemStyle: { color: ORANGE },
    data: cdfSteps(obsMass, massHistRange[0], massHistRange[1]),
  });

  const legendBase = {
    orient: "vertical",
    padding: 0,
    itemWidth: 24,
    itemHeight: 8,
    itemGap: 10.5,
    selectedMode: false,
    z: 8,
    textStyle: { fontFamily: SANS, fontSize: 13, color: "#000", padding: [0, 0, 0, 2] },
    data: [
      { name: "synthetic", icon: "rect", itemStyle: { color: "#fff", borderColor: BLUE, borderWidth: 3 } },
      { name: "observed", icon: "rect", itemStyle: { color: "#fff", borderColor: ORANGE, borderWidth: 3 } },
    ],
  };

  return {
    animation: false,
    backgroundColor: "#fff",
    textStyle: { fontFamily: SANS },
    grid: grids,
    xAxis: xAxes,
    yAxis: yAxes,
    legend: [
      { ...legendBase, left: 513.5, top: 24 },
      { ...legendBase, left: 869.5, top: 24 },
    ],
    series,
  };
}

export default function App() {
  const ref = useRef<HTMLDivElement>(null);
  useEffect(() => {
    if (!ref.current) return;
    const chart = echarts.init(ref.current, undefined, { renderer: "svg" });
    chart.setOption(buildOption() as any);
    return () => chart.dispose();
  }, []);
  return (
    <div
      ref={ref}
      style={{ position: "fixed", left: 0, top: 0, width: 1200, height: 395, background: "#fff" }}
    />
  );
}
